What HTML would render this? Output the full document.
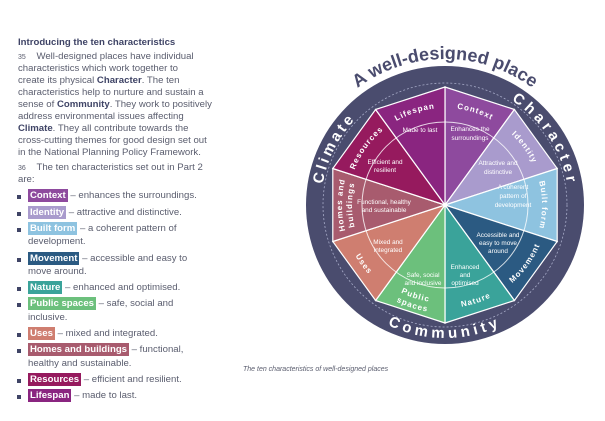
<!DOCTYPE html>
<html><head><meta charset="utf-8"><style>
body{margin:0;width:605px;height:421px;background:#fff;position:relative;overflow:hidden;font-family:"Liberation Sans",sans-serif;}
.l{position:absolute;left:18px;font-size:9.6px;color:#5a5d6e;white-space:nowrap;line-height:12px;}
.l b{color:#3f4466;}
.c{color:#fff;font-weight:bold;padding:1px 2px;}
.sq{position:absolute;left:17px;width:4px;height:4px;background:#3f4466;}
</style></head><body>
<div class="l" style="top:37px;font-weight:bold;color:#3f4466;">Introducing the ten characteristics</div>
<div class="l" style="top:51px"><span style="font-size:7px">35</span>&nbsp;&nbsp;&nbsp;&nbsp;Well-designed places have individual</div>
<div class="l" style="top:63px">characteristics which work together to</div>
<div class="l" style="top:75px">create its physical <b>Character</b>. The ten</div>
<div class="l" style="top:87px">characteristics help to nurture and sustain a</div>
<div class="l" style="top:99px">sense of <b>Community</b>. They work to positively</div>
<div class="l" style="top:111px">address environmental issues affecting</div>
<div class="l" style="top:123px"><b>Climate</b>. They all contribute towards the</div>
<div class="l" style="top:135px">cross-cutting themes for good design set out</div>
<div class="l" style="top:147px">in the National Planning Policy Framework.</div>
<div class="l" style="top:162px"><span style="font-size:7px">36</span>&nbsp;&nbsp;&nbsp;&nbsp;The ten characteristics set out in Part 2</div>
<div class="l" style="top:174px">are:</div>

<div class="sq" style="top:195px"></div><div class="l" style="left:28px;top:190px"><span class="c" style="background:#8e4a9e">Context</span> – enhances the surroundings.</div>
<div class="sq" style="top:212px"></div><div class="l" style="left:28px;top:207px"><span class="c" style="background:#a99bcd">Identity</span> – attractive and distinctive.</div>
<div class="sq" style="top:228px"></div><div class="l" style="left:28px;top:223px"><span class="c" style="background:#8ec3e0">Built form</span> – a coherent pattern of</div>
<div class="l" style="left:28px;top:236px">development.</div>
<div class="sq" style="top:258px"></div><div class="l" style="left:28px;top:253px"><span class="c" style="background:#2b5a82">Movement</span> – accessible and easy to</div>
<div class="l" style="left:28px;top:266px">move around.</div>
<div class="sq" style="top:287px"></div><div class="l" style="left:28px;top:282px"><span class="c" style="background:#3aa39a">Nature</span> – enhanced and optimised.</div>
<div class="sq" style="top:303px"></div><div class="l" style="left:28px;top:298px"><span class="c" style="background:#6cc07c">Public spaces</span> – safe, social and</div>
<div class="l" style="left:28px;top:312px">inclusive.</div>
<div class="sq" style="top:333px"></div><div class="l" style="left:28px;top:328px"><span class="c" style="background:#cf7e70">Uses</span> – mixed and integrated.</div>
<div class="sq" style="top:349px"></div><div class="l" style="left:28px;top:344px"><span class="c" style="background:#a85b6e">Homes and buildings</span> – functional,</div>
<div class="l" style="left:28px;top:358px">healthy and sustainable.</div>
<div class="sq" style="top:379px"></div><div class="l" style="left:28px;top:374px"><span class="c" style="background:#961a5e">Resources</span> – efficient and resilient.</div>
<div class="sq" style="top:395px"></div><div class="l" style="left:28px;top:390px"><span class="c" style="background:#8a2580">Lifespan</span> – made to last.</div>

<div style="position:absolute;left:243px;top:366px;font-size:7px;font-style:italic;color:#5a5d6e;">The ten characteristics of well-designed places</div>

<svg style="position:absolute;left:0;top:0" width="605" height="421" viewBox="0 0 605 421" font-family="Liberation Sans, sans-serif">
<defs>
<path id="t146" d="M445,351 A146,146 0 1 1 445,59 A146,146 0 1 1 445,351"/>
<path id="c124" d="M445,329 A124,124 0 1 1 445,81 A124,124 0 1 1 445,329"/>
<path id="cc133" d="M445,72 A133,133 0 1 0 445,338 A133,133 0 1 0 445,72"/>
<path id="c97" d="M445,302 A97,97 0 1 1 445,108 A97,97 0 1 1 445,302"/>
<path id="c93" d="M445,298 A93,93 0 1 1 445,112 A93,93 0 1 1 445,298"/>
<path id="c103" d="M445,308 A103,103 0 1 1 445,102 A103,103 0 1 1 445,308"/>
<path id="cc103" d="M445,102 A103,103 0 1 0 445,308 A103,103 0 1 0 445,102"/>
<path id="cc98" d="M445,107 A98,98 0 1 0 445,303 A98,98 0 1 0 445,107"/>
<path id="cc108" d="M445,97 A108,108 0 1 0 445,313 A108,108 0 1 0 445,97"/>
</defs>
<text font-size="18" font-weight="bold" fill="#4a4c6e" text-anchor="middle"><textPath href="#t146" startOffset="50%">A well-designed place</textPath></text>
<circle cx="445" cy="205" r="139" fill="#4a4c6e"/>
<circle cx="445" cy="205" r="122" fill="none" stroke="#a7abc8" stroke-width="0.8" stroke-dasharray="2 2"/>
<g stroke="#fff" stroke-width="1.2">
<polygon points="445,205 445,87 514.4,109.5" fill="#8e4a9e"/>
<polygon points="445,205 514.4,109.5 557.2,168.5" fill="#a99bcd"/>
<polygon points="445,205 557.2,168.5 557.2,241.5" fill="#8ec3e0"/>
<polygon points="445,205 557.2,241.5 514.4,300.5" fill="#2b5a82"/>
<polygon points="445,205 514.4,300.5 445,323" fill="#3aa39a"/>
<polygon points="445,205 445,323 375.6,300.5" fill="#6cc07c"/>
<polygon points="445,205 375.6,300.5 332.8,241.5" fill="#cf7e70"/>
<polygon points="445,205 332.8,241.5 332.8,168.5" fill="#a85b6e"/>
<polygon points="445,205 332.8,168.5 375.6,109.5" fill="#961a5e"/>
<polygon points="445,205 375.6,109.5 445,87" fill="#8a2580"/>
</g>
<circle cx="445" cy="205" r="83" fill="none" stroke="#fff" stroke-opacity="0.8" stroke-width="1"/>
<g font-size="8" font-weight="bold" fill="#fff" letter-spacing="1" text-anchor="middle">
<text><textPath href="#c97" startOffset="55%">Context</textPath></text>
<text><textPath href="#c97" startOffset="65%">Identity</textPath></text>
<text><textPath href="#c97" startOffset="75%">Built form</textPath></text>
<text><textPath href="#c97" startOffset="35%">Resources</textPath></text>
<text><textPath href="#c97" startOffset="45%">Lifespan</textPath></text>
<text><textPath href="#c103" startOffset="25%">Homes and</textPath></text>
<text><textPath href="#c93" startOffset="25%">buildings</textPath></text>
<text><textPath href="#cc103" startOffset="65%">Movement</textPath></text>
<text><textPath href="#cc103" startOffset="55%">Nature</textPath></text>
<text><textPath href="#cc103" startOffset="35%">Uses</textPath></text>
<text><textPath href="#cc98" startOffset="45%">Public</textPath></text>
<text><textPath href="#cc108" startOffset="45%">spaces</textPath></text>
</g>
<g font-size="15" font-weight="bold" fill="#fff" letter-spacing="4" text-anchor="middle">
<text><textPath href="#c124" startOffset="65.8%">Character</textPath></text>
<text letter-spacing="3"><textPath href="#c124" startOffset="32.5%">Climate</textPath></text>
<text><textPath href="#cc133" startOffset="50%">Community</textPath></text>
</g>
<g font-size="6.4" fill="#fff" text-anchor="middle">
<text x="420" y="132">Made to last</text>
<text x="470" y="131">Enhances the</text><text x="470" y="140">surroundings</text>
<text x="498" y="165">Attractive and</text><text x="498" y="174">distinctive</text>
<text x="513" y="189">A coherent</text><text x="513" y="198">pattern of</text><text x="513" y="207">development</text>
<text x="498" y="237">Accessible and</text><text x="498" y="245">easy to move</text><text x="498" y="253">around</text>
<text x="465" y="269">Enhanced</text><text x="465" y="277">and</text><text x="465" y="285">optimised</text>
<text x="423" y="277">Safe, social</text><text x="423" y="285">and inclusive</text>
<text x="388" y="244">Mixed and</text><text x="388" y="252">integrated</text>
<text x="384" y="204">Functional, healthy</text><text x="384" y="212">and sustainable</text>
<text x="385" y="164">Efficient and</text><text x="385" y="172">resilient</text>
</g>
</svg>
</body></html>
